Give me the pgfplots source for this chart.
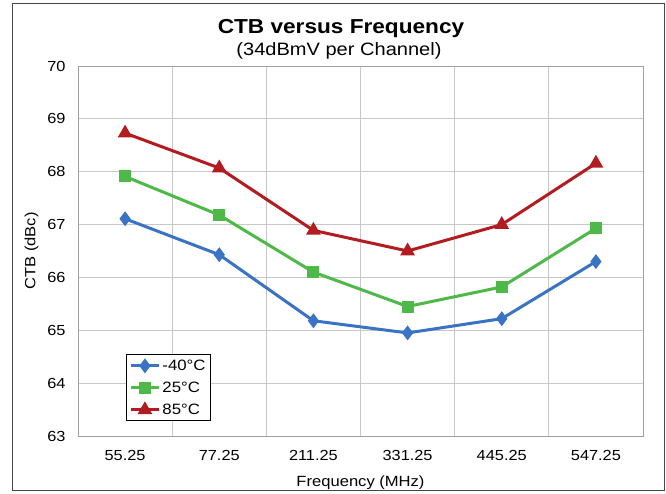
\documentclass[border=0pt]{standalone}
\usepackage{fontspec}
\setmainfont{Liberation Sans}[FakeStretch=1.12]
\usepackage{pgfplots}
\pgfplotsset{compat=1.18}
\definecolor{cblue}{RGB}{58,114,196}
\definecolor{cgreen}{RGB}{78,184,72}
\definecolor{cred}{RGB}{178,28,32}
\definecolor{cgrid}{RGB}{200,200,200}
\definecolor{cframe}{RGB}{70,70,70}
\begin{document}
\begin{tikzpicture}[x=1pt,y=1pt]
\path[use as bounding box] (0,0) rectangle (666,493);
\draw[cframe, line width=1pt] (12.5,2.5) rectangle (664,489);
\begin{axis}[
  at={(78pt,57pt)}, anchor=south west,
  width=565pt, height=370pt, scale only axis,
  xmin=-0.5, xmax=5.5, ymin=63, ymax=70,
  ytick={63,64,...,70},
  xtick={0,1,2,3,4,5},
  xticklabels={55.25,77.25,211.25,331.25,445.25,547.25},
  minor xtick={0.5,1.5,2.5,3.5,4.5},
  xmajorgrids=false, xminorgrids=true, ymajorgrids=true,
  grid style={cgrid, line width=1pt},
  minor grid style={cgrid, line width=1pt},
  axis line style={cgrid!80!black, line width=1pt},
  major tick length=0pt, minor tick length=0pt,
  tick label style={font=\fontsize{14.6}{16}\selectfont},
  /pgf/number format/assume math mode=true,
  yticklabel style={xshift=-9pt},
  xticklabel style={yshift=-11pt},
  xlabel={Frequency (MHz)},
  ylabel={CTB (dBc)},
  label style={font=\fontsize{14.8}{17}\selectfont},
  xlabel style={yshift=-8pt},
  ylabel style={yshift=2pt},
  legend style={at={(axis cs:0.01,63.28)}, anchor=south west, draw=black, line width=0.8pt,
    font=\fontsize{15}{17}\selectfont, row sep=6pt, inner sep=3pt},
  legend cell align=left,
  legend image code/.code={\draw[#1, line width=3pt] (0pt,0pt) -- (28pt,0pt); \draw[#1, mark repeat=2, mark phase=2] plot coordinates {(0pt,0pt) (14pt,0pt) (28pt,0pt)};},
]
\addplot[cblue, line width=3pt, mark=diamond*, mark size=5pt, mark options={solid}] coordinates {
(0,67.11) (1,66.43) (2,65.18) (3,64.95) (4,65.22) (5,66.30)};
\addplot[cgreen, line width=3pt, mark=square*, mark size=4.5pt, mark options={solid}] coordinates {
(0,67.91) (1,67.18) (2,66.10) (3,65.45) (4,65.82) (5,66.93)};
\addplot[cred, line width=3pt, mark=triangle*, mark size=5.5pt, mark options={solid}] coordinates {
(0,68.73) (1,68.07) (2,66.89) (3,66.50) (4,67.00) (5,68.16)};
\legend{-40°C,25°C,85°C}
\end{axis}
\node[font=\bfseries\fontsize{20.2}{22}\selectfont] at (341,464) {CTB versus Frequency};
\node[font=\fontsize{17.9}{20}\selectfont] at (339,442) {(34dBmV per Channel)};
\end{tikzpicture}
\end{document}
